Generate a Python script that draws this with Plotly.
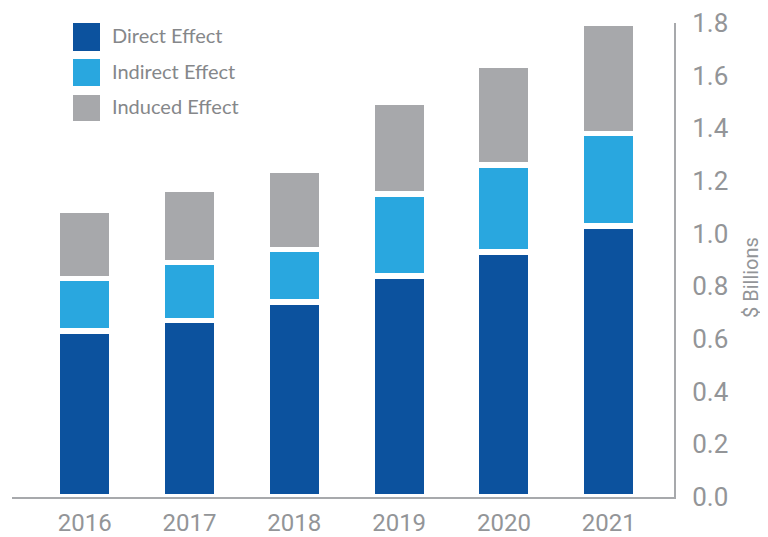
import plotly.graph_objects as go

years = ["2016", "2017", "2018", "2019", "2020", "2021"]
direct = [0.63, 0.67, 0.74, 0.84, 0.93, 1.03]
indirect = [0.20, 0.22, 0.20, 0.31, 0.33, 0.35]
induced = [0.26, 0.28, 0.30, 0.35, 0.38, 0.42]

series_names = ["Direct Effect", "Indirect Effect", "Induced Effect"]
colors = ["#0C529E", "#29A7DF", "#A7A8AB"]
y_ticks = [0.0, 0.2, 0.4, 0.6, 0.8, 1.0, 1.2, 1.4, 1.6, 1.8]

# page body has an 8px margin; figure is sized to fit the 768x537 window
OFF = 8
W, H = 768 - OFF, 537 - OFF
L, R, T, B = 12 - OFF, 94, 23 - OFF, 40
pw, ph = W - L - R, H - T - B

fig = go.Figure()
for name, vals, col in zip(series_names, [direct, indirect, induced], colors):
    fig.add_trace(go.Bar(
        x=years, y=vals, name=name, width=0.52,
        marker=dict(color=col, line=dict(color="white", width=5.5)),
        showlegend=False,
    ))

def px_x(x):  # screen px -> paper
    return (x - OFF - L) / pw

def px_y(y):
    return (H - B - (y - OFF)) / ph

# custom legend (large swatches as in reference)
legend_rows = [(23, 51), (59, 86), (95, 121)]
shapes = []
annotations = []
for (y0, y1), name, col in zip(legend_rows, series_names, colors):
    shapes.append(dict(type="rect", xref="paper", yref="paper",
                       x0=px_x(73), x1=px_x(100), y0=px_y(y1), y1=px_y(y0),
                       fillcolor=col, line=dict(width=0)))
    annotations.append(dict(xref="paper", yref="paper", x=px_x(110), y=px_y((y0 + y1) / 2 - 2),
                            text=name, showarrow=False, xanchor="left", yanchor="middle",
                            font=dict(family="Lato, Liberation Sans, sans-serif", size=20, color="#85878A")))

annotations.append(dict(xref="paper", yref="paper", x=px_x(751), y=px_y(278),
                        text="$ Billions", showarrow=False, textangle=-90,
                        xanchor="center", yanchor="middle",
                        font=dict(family="Roboto, sans-serif", size=20, color="#939598")))

y_tick_font = dict(family="Roboto, sans-serif", size=26, color="#939598")
x_tick_font = dict(family="Roboto, sans-serif", size=24, color="#939598")

fig.update_layout(
    barmode="stack",
    width=W, height=H,
    margin=dict(l=L, r=R, t=T, b=B, pad=0, autoexpand=False),
    paper_bgcolor="white", plot_bgcolor="white",
    shapes=shapes, annotations=annotations,
    xaxis=dict(type="category", range=[-0.694, 5.623], showgrid=False, zeroline=False,
               showline=True, linecolor="#A7A9AC", linewidth=2, ticks="",
               tickfont=x_tick_font, ticklabelstandoff=3, automargin=False),
    yaxis=dict(side="right", range=[0, 1.8], tickvals=y_ticks,
               ticktext=[f"{v:.1f}" for v in y_ticks], showgrid=False, zeroline=False,
               showline=True, linecolor="#A7A9AC", linewidth=2, ticks="",
               tickfont=y_tick_font, ticklabelstandoff=11, automargin=False),
)

fig.write_html("out.html")
